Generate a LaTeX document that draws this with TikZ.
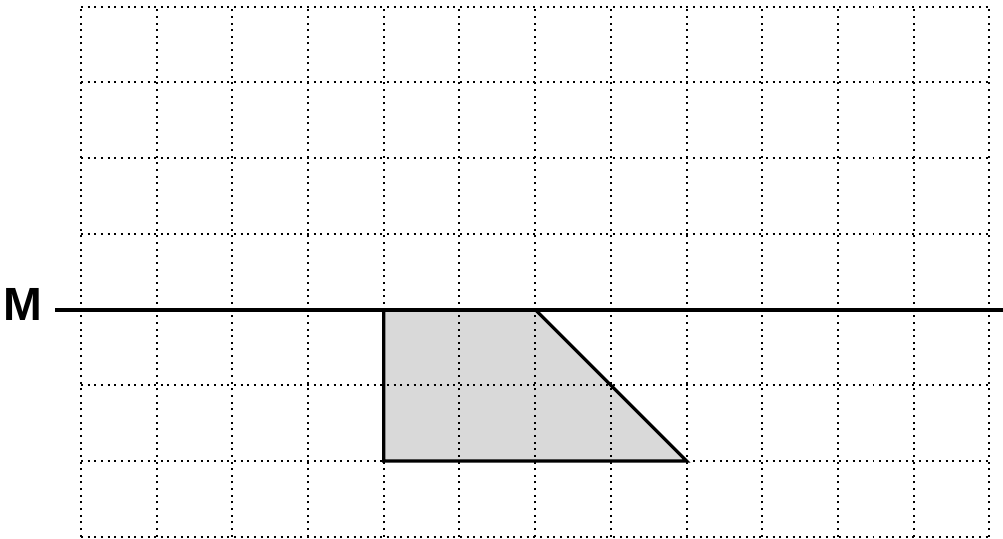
\documentclass[tikz,border=0pt]{standalone}
\usepackage{fontspec}
\setmainfont{Liberation Sans}
\begin{document}
\begin{tikzpicture}[x=1cm,y=1cm,font=\bfseries\fontsize{17.5}{17.5}\selectfont]
\tikzset{gridline/.style={line width=.75pt,dash pattern=on .75pt off 1.75pt}}
\useasboundingbox (-1.07,-0.026) rectangle (12.18,7.09);
\fill[black!15] (4,3)--(6,3)--(8,1)--(4,1)--cycle;
\foreach \i in {0,...,12}\draw[gridline] (\i,0)--(\i,7);
\foreach \j in {0,...,7}\draw[gridline] (0,\j)--(12,\j);
\draw[line width=1.2pt] (6,3)--(8,1)--(4,1)--(4,3);
\node[anchor=east,inner sep=0pt] (M) at (-0.5,3.07){M};
\coordinate (mend) at (12.18,3);
\draw[line width=1.5pt] ([xshift=.16cm,yshift=-.07cm]M.east)--(mend);
\end{tikzpicture}
\end{document}
